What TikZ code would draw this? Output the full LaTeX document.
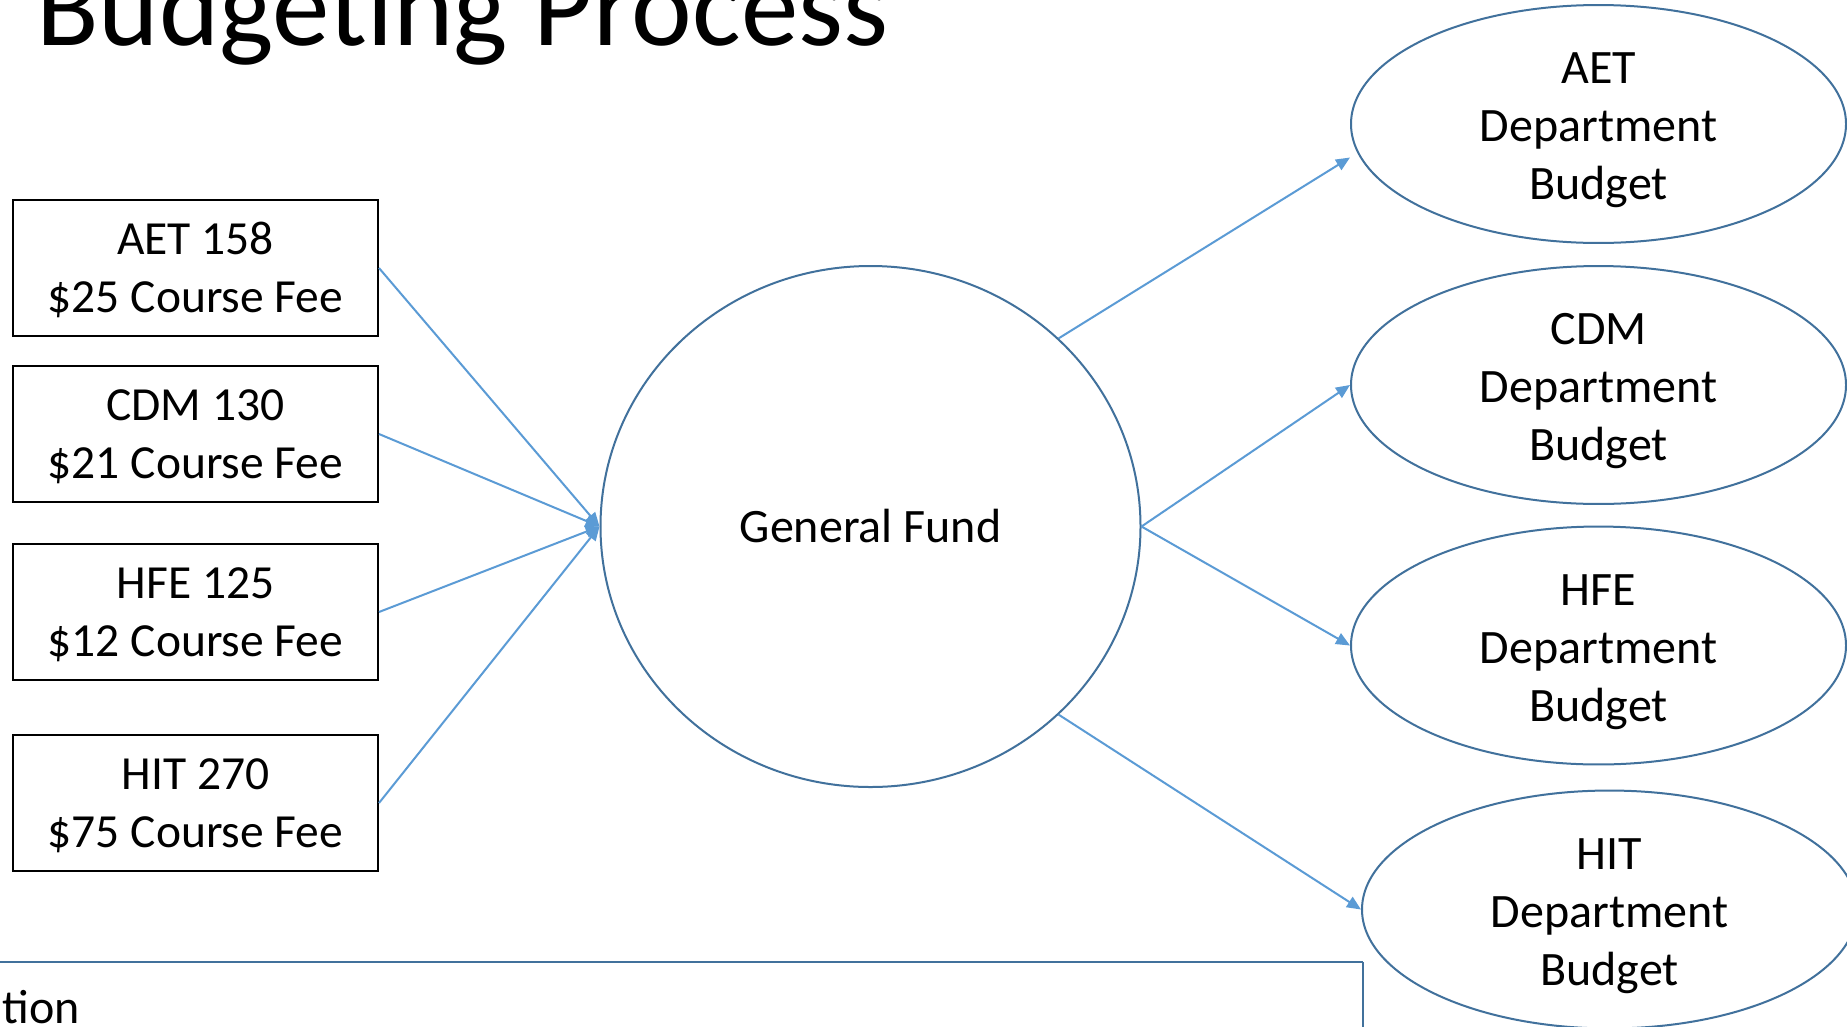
\documentclass[tikz,border=0pt]{standalone}
\usepackage{fontspec}
\setmainfont{Carlito}
\usetikzlibrary{arrows.meta,shapes.geometric}
\definecolor{shapeblue}{HTML}{41719C}
\definecolor{arrowblue}{HTML}{5B9BD5}
\begin{document}
\begin{tikzpicture}[x=1pt,y=-1pt,
  coursebox/.style={draw=black,line width=2pt,minimum width=365pt,minimum height=136pt,inner sep=0pt,align=center,text height=95pt,font=\fontsize{47.5}{58}\selectfont},
  budget/.style={ellipse,draw=shapeblue,line width=2pt,minimum width=495pt,minimum height=235pt,inner sep=0pt,align=center,text height=160pt,font=\fontsize{48}{58}\selectfont},
  fund/.style={ellipse,draw=shapeblue,line width=2pt,minimum width=540pt,minimum height=521pt,inner sep=0pt,font=\fontsize{48}{58}\selectfont},
  flow/.style={draw=arrowblue,line width=2pt,-{Triangle[length=14pt,width=12pt]}}]
\clip (0,0) rectangle (1847,1026);
\fill[white] (0,0) rectangle (1847,1026);
\node[anchor=base west,inner sep=0pt,font=\fontsize{115}{120}\selectfont] (title) at (36,45) {Budgeting Process};
\node[coursebox] (c1) at (195.5,268) {AET 158\\\$25 Course Fee};
\node[coursebox] (c2) at (195.5,434) {CDM 130\\\$21 Course Fee};
\node[coursebox] (c3) at (195.5,612) {HFE 125\\\$12 Course Fee};
\node[coursebox] (c4) at (195.5,803) {HIT 270\\\$75 Course Fee};
\node[fund] (gf) at (870.5,526.5) {General Fund};
\node[budget] (aet) at (1598.5,124) {AET\\Department\\Budget};
\node[budget] (cdm) at (1598.5,385) {CDM\\Department\\Budget};
\node[budget] (hfe) at (1598.5,645.5) {HFE\\Department\\Budget};
\node[budget] (hit) at (1609.5,909.5) {HIT\\Department\\Budget};
\draw[flow] (c1.east) -- (gf.west);
\draw[flow] (c2.east) -- (gf.west);
\draw[flow] (c3.east) -- (gf.west);
\draw[flow] (c4.east) -- (gf.west);
\draw[flow] (gf.45) -- (aet.west |- aet.188);
\draw[flow] (gf.east) -- (cdm.west);
\draw[flow] (gf.east) -- (hfe.west);
\draw[flow] (gf.-45) -- (hit.west);
\coordinate (bl) at (-10,962);
\coordinate (br) at (1363,962);
\coordinate (bb) at (1363,1040);
\draw[shapeblue,line width=2.5pt] (bl) -- (br);
\draw[shapeblue,line width=1.5pt] (br) -- (bb);
\node[anchor=base east,inner sep=0pt,font=\fontsize{48}{58}\selectfont] (tion) at (80,1023) {tion};
\end{tikzpicture}
\end{document}
